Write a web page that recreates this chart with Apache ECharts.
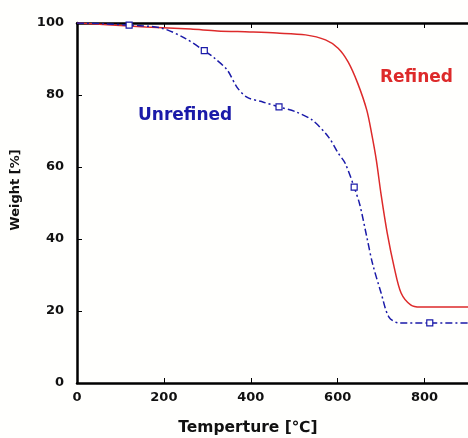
<!DOCTYPE html>
<html>
<head>
<meta charset="utf-8">
<script src="https://cdn.jsdelivr.net/npm/echarts@6/dist/echarts.min.js"></script>
<style>
  html, body { margin: 0; padding: 0; background: #ffffff; }
  #chart { width: 468px; height: 438px; }
</style>
</head>
<body>
<div id="chart"></div>
<script>
// TGA curves: temperature (°C) vs residual weight (%)
const refinedTemp   = [0, 60, 158, 262, 323, 398, 460, 526, 572, 601, 624, 646, 667, 678, 689, 700, 714, 730, 746, 768, 790, 900];
const refinedWeight = [100, 99.6, 98.9, 98.3, 97.8, 97.5, 97.2, 96.7, 95.3, 93, 89.2, 83.3, 75.8, 69.4, 61.9, 52.3, 41.7, 32.2, 25, 21.7, 21.1, 21.1];

const unrefinedTemp   = [0, 60, 120, 194, 248, 293, 316, 346, 368, 391, 429, 465, 504, 542, 579, 601, 617, 638, 651, 667, 680, 700, 718, 741, 812, 900];
const unrefinedWeight = [100, 99.8, 99.4, 98.6, 95.8, 92.3, 90.3, 86.9, 82.2, 79.4, 78, 76.7, 75.3, 73, 68.3, 63.9, 61.1, 54.4, 49.5, 40.6, 33.3, 25, 18.3, 16.7, 16.7, 16.7];
// temperatures at which the unrefined curve carries a square marker
const unrefinedMarkers = [120, 293, 465, 638, 812];

const xTicks = [0, 200, 400, 600, 800];
const yTicks = [0, 20, 40, 60, 80, 100];

const RED = '#dd2a2a';
const BLUE = '#1a1aa8';
const FONT = '"DejaVu Sans", Verdana, sans-serif';

const refinedData = refinedTemp.map((t, i) => [t, refinedWeight[i]]);
const unrefinedData = unrefinedTemp.map((t, i) => {
  const item = { value: [t, unrefinedWeight[i]] };
  if (unrefinedMarkers.includes(t)) {
    item.symbol = 'rect';
    item.symbolSize = 6;
  }
  return item;
});

const axisLabelStyle = { color: '#111', fontFamily: FONT, fontWeight: 'bold', fontSize: 13 };

const chart = echarts.init(document.getElementById('chart'), null, { renderer: 'canvas' });
chart.setOption({
  backgroundColor: '#fffffd',
  animation: false,
  grid: { left: 77, top: 23, bottom: 55, right: -7, containLabel: false },
  xAxis: [
    {
      type: 'value', min: 0, max: 900, interval: 200, position: 'bottom',
      axisLine: { show: true, lineStyle: { color: '#000', width: 2.5 } },
      axisTick: { show: true, inside: true, length: 5, lineStyle: { color: '#000', width: 1 } },
      axisLabel: Object.assign({ margin: 8, showMaxLabel: false,
        formatter: v => xTicks.includes(v) ? String(v) : '' }, axisLabelStyle),
      splitLine: { show: false }
    },
    {
      type: 'value', min: 0, max: 900, interval: 200, position: 'top',
      axisLine: { show: true, lineStyle: { color: '#000', width: 2.5 } },
      axisTick: { show: true, inside: true, length: 5, lineStyle: { color: '#000', width: 1 } },
      axisLabel: { show: false },
      splitLine: { show: false }
    }
  ],
  yAxis: {
    type: 'value', min: 0, max: 100, interval: 20,
    axisLine: { show: true, lineStyle: { color: '#000', width: 2.5 } },
    axisTick: { show: true, inside: true, length: 5, lineStyle: { color: '#000', width: 1 } },
    axisLabel: Object.assign({ margin: 13, formatter: v => yTicks.includes(v) ? String(v) : '' }, axisLabelStyle),
    splitLine: { show: false }
  },
  series: [
    {
      name: 'Refined', type: 'line', smooth: 0.3, data: refinedData,
      showSymbol: false, symbol: 'none',
      lineStyle: { color: RED, width: 1.5 }
    },
    {
      name: 'Unrefined', type: 'line', smooth: 0.3, data: unrefinedData,
      symbol: 'none', showAllSymbol: true,
      itemStyle: { color: '#fff', borderColor: BLUE, borderWidth: 1.2 },
      lineStyle: { color: BLUE, width: 1.5, type: [7, 3, 2, 3] }
    }
  ],
  graphic: [
    { type: 'text', left: 380, top: 69,
      style: { text: 'Refined', fill: RED, font: 'bold 17px ' + FONT } },
    { type: 'text', left: 138, top: 107,
      style: { text: 'Unrefined', fill: BLUE, font: 'bold 17px ' + FONT } },
    { type: 'text', x: 248, y: 428,
      style: { text: 'Temperture [\u2103]', fill: '#111', font: 'bold 15.5px ' + FONT,
               align: 'center', verticalAlign: 'middle' } },
    { type: 'text', x: 16, y: 190, rotation: Math.PI / 2,
      style: { text: 'Weight [%]', fill: '#111', font: 'bold 13px ' + FONT,
               align: 'center', verticalAlign: 'middle' } }
  ]
});
</script>
</body>
</html>
